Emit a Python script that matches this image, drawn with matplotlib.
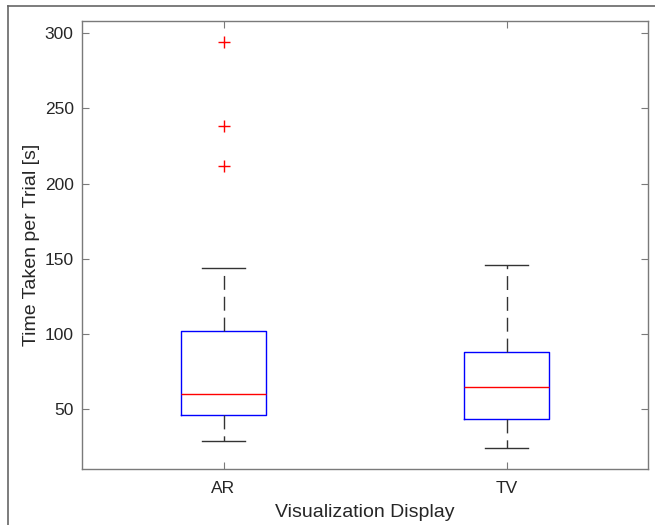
import matplotlib
matplotlib.use('Agg')
import matplotlib.pyplot as plt
from matplotlib.lines import Line2D

plt.rcParams['font.family'] = ['Liberation Sans', 'DejaVu Sans']

# values
displays = ['AR', 'TV']
whisker_low = [29, 24.5]
q1 = [46, 43.7]
median = [60.2, 65]
q3 = [102, 88.2]
whisker_high = [144, 146]
outliers = [[294, 238, 211.7], []]

yticks = [50, 100, 150, 200, 250, 300]


def main():
    fig = plt.figure(figsize=(6.55, 5.25), dpi=100)
    ax = fig.add_axes([82 / 655, 1 - 468.5 / 525, (648 - 82) / 655, (468.5 - 21) / 525])

    stats = []
    for i, name in enumerate(displays):
        stats.append(dict(label=name, whislo=whisker_low[i], q1=q1[i], med=median[i],
                          q3=q3[i], whishi=whisker_high[i], fliers=outliers[i]))

    ax.bxp(stats, positions=[1, 2], widths=0.3, showfliers=True,
           boxprops=dict(color='blue', linewidth=1.0),
           medianprops=dict(color='red', linewidth=1.0),
           whiskerprops=dict(color='#333333', linewidth=1.0, linestyle=(0, (10, 5))),
           capprops=dict(color='#333333', linewidth=1.0),
           flierprops=dict(marker='+', markeredgecolor='red', markersize=8,
                           markeredgewidth=1.0, linestyle='none'))

    ax.set_xlim(0.5, 2.5)
    ax.set_ylim(10.8, 308)
    ax.set_yticks(yticks)
    ax.set_xticks([1, 2])
    ax.set_xticklabels(displays)

    for s in ax.spines.values():
        s.set_color('#7a7a7a')
        s.set_linewidth(1.0)
    ax.tick_params(direction='in', length=5, width=0.8, color='#7a7a7a',
                   top=True, right=True, labelsize=12.5, labelcolor='#262626')
    ax.tick_params(axis='y', pad=6)
    ax.tick_params(axis='x', pad=9)

    ax.set_xlabel('Visualization Display', fontsize=14, color='#262626', labelpad=6)
    ax.set_ylabel('Time Taken per Trial [s]', fontsize=14, color='#262626', labelpad=3)

    # outer screenshot frame
    fig.add_artist(Line2D([7.5 / 655, 7.5 / 655], [0, 1 - 6 / 525],
                          transform=fig.transFigure, color='#666666', linewidth=1.2))
    fig.add_artist(Line2D([7.5 / 655, 1], [1 - 6 / 525, 1 - 6 / 525],
                          transform=fig.transFigure, color='#666666', linewidth=1.2))

    fig.savefig('out.png', dpi=100)


if __name__ == "__main__":
    main()
